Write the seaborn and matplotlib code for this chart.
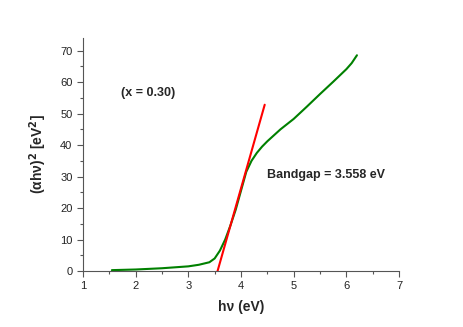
import numpy as np
import pandas as pd
import seaborn as sns
import matplotlib.pyplot as plt
from matplotlib.ticker import MultipleLocator

# absorption curve (x = 0.30)
energy = [1.55, 2.0, 2.5, 3.0, 3.2, 3.4, 3.5, 3.6, 3.7, 3.8, 3.9, 4.0, 4.1,
          4.2, 4.3, 4.4, 4.5, 4.75, 5.0, 5.25, 5.5, 5.75, 6.0, 6.1, 6.2]
alpha_hv_sq = [0.3, 0.5, 0.9, 1.5, 2.0, 2.8, 4.0, 6.5, 10.0, 14.5, 19.5, 25.5, 31.5,
               35.0, 37.5, 39.5, 41.2, 45.0, 48.3, 52.2, 56.2, 60.1, 64.1, 66.0, 68.5]

# tangent fit
fit_x = [3.55, 4.45]
fit_y = [-0.3, 52.8]

bandgap = 3.558

df = pd.DataFrame({"E": energy, "Y": alpha_hv_sq})
fit = pd.DataFrame({"E": fit_x, "Y": fit_y})

sns.set_style('white')
plt.rcParams['font.family'] = ['Liberation Sans', 'DejaVu Sans']

fig = plt.figure(figsize=(4.63, 3.27), dpi=100)
ax = fig.add_axes([0.179, 0.171, 0.683, 0.713])

sns.lineplot(data=df, x="E", y="Y", ax=ax, color="#008000", lw=1.5)
sns.lineplot(data=fit, x="E", y="Y", ax=ax, color="#ff0000", lw=1.5)

ax.set_xlim(1, 7)
ax.set_ylim(0, 74)
ax.xaxis.set_major_locator(MultipleLocator(1))
ax.xaxis.set_minor_locator(MultipleLocator(0.5))
ax.yaxis.set_major_locator(MultipleLocator(10))
ax.yaxis.set_minor_locator(MultipleLocator(5))
ax.tick_params(which='both', direction='out', color='#555555', labelsize=8,
               labelcolor='#222222', bottom=True, left=True)
ax.tick_params(which='major', length=4, width=0.8)
ax.tick_params(which='minor', length=2.5, width=0.8)

for s in ['top', 'right']:
    ax.spines[s].set_visible(False)
for s in ['left', 'bottom']:
    ax.spines[s].set_color('#555555')
    ax.spines[s].set_linewidth(0.8)

ax.set_xlabel("hν (eV)", fontsize=10, fontweight='bold', labelpad=6)
ax.set_ylabel(r"(αhν)$^{\mathbf{2}}$ [eV$^{\mathbf{2}}$]", fontsize=10,
              fontweight='bold', labelpad=8)

ax.text(1.72, 56.6, "(x = 0.30)", fontsize=9, fontweight='bold', va='center')
ax.text(4.49, 30.4, f"Bandgap = {bandgap} eV", fontsize=9, fontweight='bold',
        va='center')

fig.savefig("out.png", dpi=100)
